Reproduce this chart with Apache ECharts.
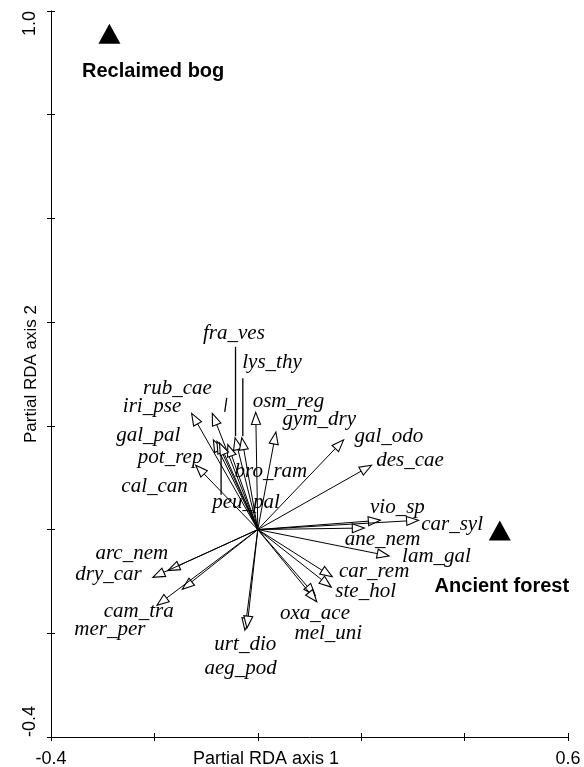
<!DOCTYPE html>
<html><head><meta charset="utf-8">
<script src="https://cdn.jsdelivr.net/npm/echarts@6/dist/echarts.min.js"></script>
<style>html,body{margin:0;padding:0;background:#fff}#c{width:584px;height:767px}</style>
</head><body><div id="c"></div><script>
// ---- data ----
const species = ['fra_ves','lys_thy','rub_cae','iri_pse','gal_pal','pot_rep','cal_can','bro_ram','peu_pal',
  'osm_reg','gym_dry','gal_odo','des_cae','vio_sp','car_syl','ane_nem','lam_gal','car_rem','ste_hol',
  'oxa_ace','mel_uni','arc_nem','dry_car','cam_tra','mer_per','urt_dio','aeg_pod'];
const arrowX = [-0.044,-0.031,-0.088,-0.128,-0.086,-0.079,-0.120,-0.058,-0.074,
  -0.004,0.035,0.166,0.220,0.237,0.311,0.206,0.254,0.144,0.142,
  0.111,0.114,-0.174,-0.203,-0.146,-0.195,-0.025,-0.021];
const arrowY = [0.177,0.177,0.224,0.224,0.173,0.170,0.124,0.164,0.167,
  0.226,0.188,0.173,0.124,0.018,0.018,0.003,-0.051,-0.091,-0.111,
  -0.127,-0.139,-0.079,-0.092,-0.115,-0.146,-0.194,-0.190];
// label anchors (left edge, text baseline) in axis units
const labelX = [-0.106,-0.030,-0.222,-0.261,-0.274,-0.232,-0.264,-0.045,-0.088,
  -0.010,0.048,0.187,0.229,0.217,0.316,0.168,0.279,0.157,0.150,
  0.043,0.071,-0.314,-0.353,-0.298,-0.355,-0.084,-0.103];
const labelY = [0.365,0.309,0.259,0.223,0.167,0.126,0.070,0.099,0.038,
  0.233,0.198,0.166,0.120,0.029,-0.004,-0.033,-0.065,-0.095,-0.133,
  -0.175,-0.213,-0.059,-0.101,-0.171,-0.207,-0.236,-0.281];
// label leader lines [x1, y1, x2, y2]
const leaders = [
  [-0.0431, 0.3525, -0.0431, 0.180],
  [-0.0290, 0.2920, -0.0290, 0.180],
  [-0.0600, 0.2540, -0.0640, 0.227],
  [-0.0710, 0.1480, -0.0710, 0.067]
];
const sites = ['Reclaimed bog','Ancient forest'];
const siteX = [-0.287, 0.468];
const siteY = [0.956, -0.002];
const siteLabelX = [-0.340, 0.342];
const siteLabelY = [0.869, -0.123];
const xTickLabels = ['-0.4','0.6'];
const yTickLabels = ['-0.4','1.0'];
const xRange = [-0.4, 0.6], yRange = [-0.4, 1.0], step = 0.2;

// ---- chart ----
const SANS = '"Liberation Sans", Arial, Helvetica, sans-serif';
const SERIF = '"Liberation Serif", "Times New Roman", serif';
const chart = echarts.init(document.getElementById('c'), null, {renderer:'canvas'});

function fmt(list){ return v => { const s = (Math.abs(v) < 1e-9 ? 0 : v).toFixed(1); return list.indexOf(s) >= 0 ? s : ''; }; }

const baseAxis = (range, labels) => ({
  type:'value', min:range[0], max:range[1], interval:step,
  splitLine:{show:false},
  axisLine:{show:true, onZero:false, lineStyle:{color:'#000', width:1}},
  axisTick:{show:true, inside:false, length:4, lineStyle:{color:'#000', width:1}},
  axisLabel:{show:true, formatter:fmt(labels), color:'#000', fontSize:18, fontFamily:SANS, margin:13,
    showMinLabel:true, showMaxLabel:true},
  nameMoveOverlap:false
});
const innerAxis = (range, pos) => ({
  type:'value', min:range[0], max:range[1], interval:step, position:pos,
  splitLine:{show:false}, axisLine:{show:false, onZero:false},
  axisTick:{show:true, inside:true, length:4, lineStyle:{color:'#000', width:1}},
  axisLabel:{show:false}
});

const x0 = Object.assign(baseAxis(xRange, xTickLabels), {
  position:'bottom', name:'Partial RDA axis 1', nameLocation:'middle', nameGap:13,
  nameTextStyle:{color:'#000', fontSize:18, fontFamily:SANS, verticalAlign:'top', padding:[0,87,0,0]}
});
const y0 = Object.assign(baseAxis(yRange, yTickLabels), {
  position:'left', name:'Partial RDA axis 2', nameLocation:'middle', nameGap:11,
  nameTextStyle:{color:'#000', fontSize:17, fontFamily:SANS}
});
y0.axisLabel.rotate = 90;
y0.axisLabel.margin = 12;
y0.axisLabel.alignMinLabel = 'left';
y0.axisLabel.alignMaxLabel = 'right';

const arrowData = species.map((s,i) => [arrowX[i], arrowY[i], labelX[i], labelY[i]]);
const siteLabelData = sites.map((s,i) => [siteLabelX[i], siteLabelY[i]]);

function renderArrow(params, api){
  const i = params.dataIndex;
  const o = api.coord([0,0]);
  const t = api.coord([api.value(0), api.value(1)]);
  const dx = t[0]-o[0], dy = t[1]-o[1];
  const L = Math.hypot(dx,dy) || 1;
  const ux = dx/L, uy = dy/L;
  const hl = 12, hw = 4.5;
  const bx = t[0]-ux*hl, by = t[1]-uy*hl;
  const px = -uy, py = ux;
  const lp = api.coord([api.value(2), api.value(3)]);
  return {type:'group', children:[
    {type:'line', shape:{x1:o[0], y1:o[1], x2:bx, y2:by}, style:{stroke:'#000', lineWidth:1}},
    {type:'polygon', shape:{points:[[t[0],t[1]],[bx+px*hw,by+py*hw],[bx-px*hw,by-py*hw]]},
      style:{fill:'#fff', stroke:'#000', lineWidth:1.1}},
    {type:'text', x:lp[0], y:lp[1]-7, style:{text:species[i], font:'italic 21px ' + SERIF,
      fill:'#000', align:'left', verticalAlign:'middle'}}
  ]};
}
function renderLeader(params, api){
  const a = api.coord([api.value(0), api.value(1)]);
  const b = api.coord([api.value(2), api.value(3)]);
  return {type:'line', shape:{x1:a[0], y1:a[1], x2:b[0], y2:b[1]}, style:{stroke:'#000', lineWidth:1.3}};
}
function renderSiteLabel(params, api){
  const p = api.coord([api.value(0), api.value(1)]);
  return {type:'text', x:p[0], y:p[1]-7, style:{text:sites[params.dataIndex], font:'bold 20px ' + SANS,
    fill:'#000', align:'left', verticalAlign:'middle'}};
}

chart.setOption({
  animation:false,
  backgroundColor:'#fff',
  grid:{left:51, right:16, top:11, bottom:30, containLabel:false, outerBoundsMode:'none'},
  xAxis:[x0, innerAxis(xRange,'bottom')],
  yAxis:[y0, innerAxis(yRange,'left')],
  series:[
    {type:'custom', name:'leaders', coordinateSystem:'cartesian2d', renderItem:renderLeader, data:leaders, clip:false, silent:true, z:2},
    {type:'custom', name:'species', coordinateSystem:'cartesian2d', renderItem:renderArrow, data:arrowData, clip:false, silent:true, z:3},
    {type:'scatter', name:'sites', data:sites.map((s,i)=>[siteX[i], siteY[i]]), symbol:'triangle', symbolSize:[22,20],
      itemStyle:{color:'#000', opacity:1}, silent:true, z:4},
    {type:'custom', name:'siteLabels', coordinateSystem:'cartesian2d', renderItem:renderSiteLabel, data:siteLabelData, clip:false, silent:true, z:4}
  ]
});
</script></body></html>
